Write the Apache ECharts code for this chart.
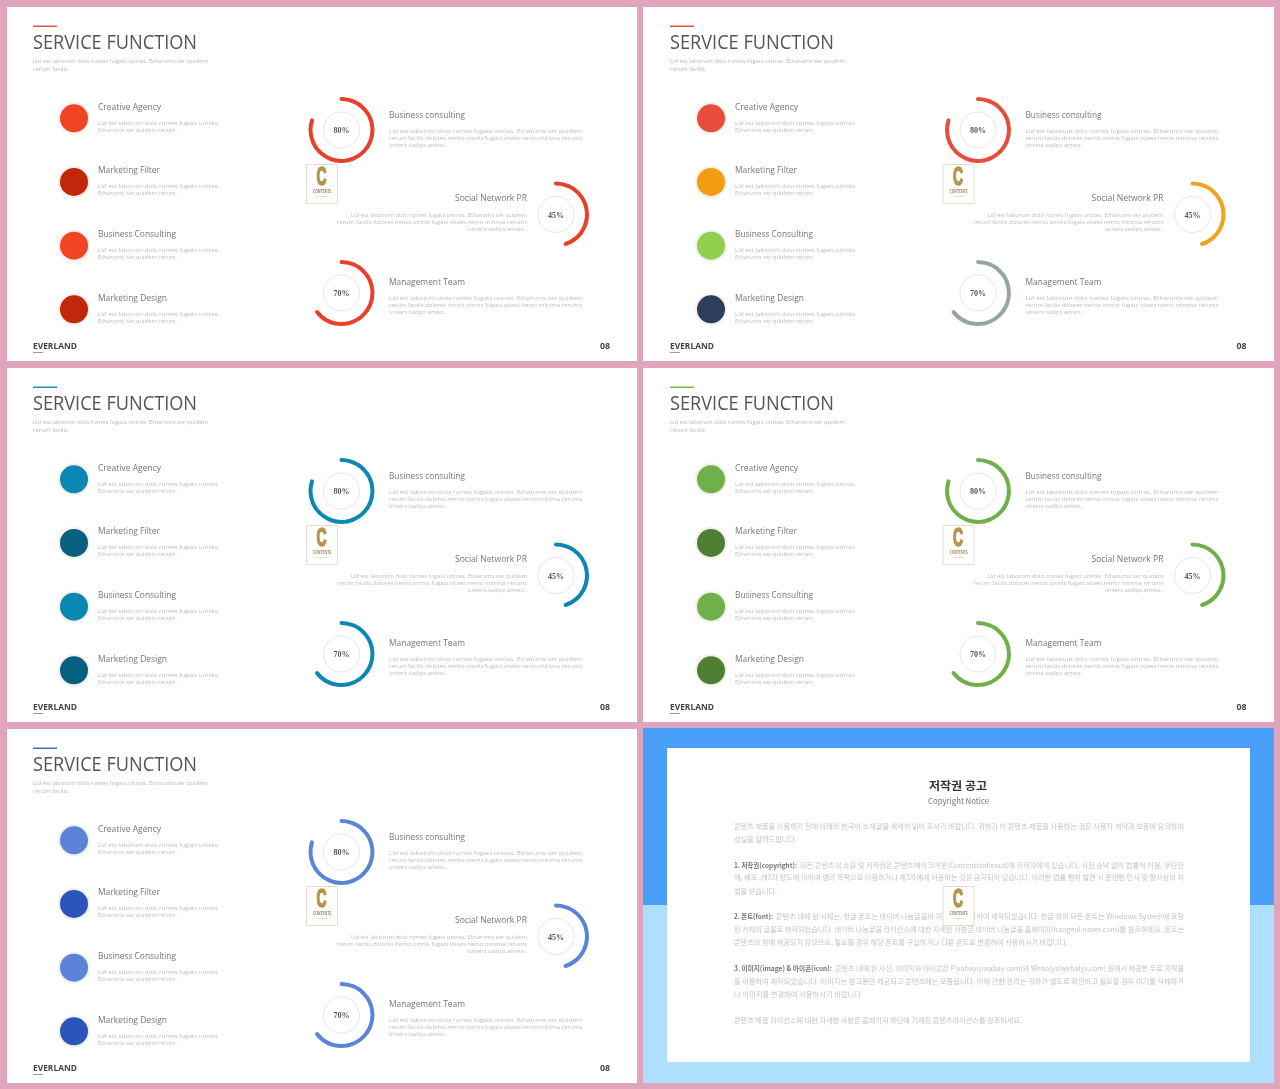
<![CDATA[<!DOCTYPE html>
<html><head><meta charset="utf-8">
<style>html,body{margin:0;padding:0;background:#e0a5bc}#c{width:1280px;height:1089px}</style>
<script src="https://cdn.jsdelivr.net/npm/echarts@6/dist/echarts.min.js"></script>
</head><body><div id="c"></div>
<script>
// ---- data ----
const title = 'SERVICE FUNCTION';
const subtitleLines = ['Lid est laborum dolo rumes fugats untras. Etharums ser quidem', 'rerum facilis'];
const listCategories = ['Creative Agency', 'Marketing Filter', 'Business Consulting', 'Marketing Design'];
const listText = ['Lid est laborum dolo rumes fugats untras.', 'Etharums ser quidem rerum.'];
const gaugeNames = ['Business consulting', 'Social Network PR', 'Management Team'];
const gaugeLabels = ['80%', '45%', '70%'];
const gaugeArcs = [80, 45, 64.5];   // sweep as drawn in the picture
const gaugeText = ['Lid est laborum dolo rumes fugats untras. Etharums ser quidem', 'rerum facilis dolores nemis omnis fugats vitaes nemo minima rerums', 'unsers sadips amets..'];
const brand = 'EVERLAND';
const pageNo = '08';
const accentColors = ['#e2523f', '#e2523f', '#1a93a8', '#7cb65a', '#3f6fc4'];
const dotColors = [
  ['#f04423', '#c0270d', '#f04423', '#c0270d'],
  ['#e74c3c', '#f39c12', '#8fd14f', '#2c3e5c'],
  ['#0b87b3', '#05617f', '#0b87b3', '#05617f'],
  ['#6fb04a', '#4f7f33', '#6fb04a', '#4f7f33'],
  ['#5b84d8', '#2a55bb', '#5b84d8', '#2a55bb']
];
const ringColors = [
  ['#e8402a', '#e8402a', '#e8402a'],
  ['#e74c3c', '#f1a21e', '#95a5a6'],
  ['#0b87b3', '#0b87b3', '#0b87b3'],
  ['#6fb04a', '#6fb04a', '#6fb04a'],
  ['#5b84d8', '#5b84d8', '#5b84d8']
];
const noticeTitle = '저작권 공고';
const noticeSubtitle = 'Copyright Notice';
const noticeIntro = ['콘텐츠 제품을 사용하기 전에 아래의 한국어 소개글을 세세히 읽어 주시기 바랍니다. 귀하가 이 콘텐츠 제품을 사용하는 것은 사용자 계약과 보증에 유의하여', '성실을 알려드립니다.'];
const noticeCopyright = ['1. 저작권(copyright):', '모든 콘텐츠의 소유 및 저작권은 콘텐츠메이크아웃(Contentstokeout)에 저작자에게 있습니다. 사전 승낙 없이 법률적 이용, 무단전', '재, 배포 ,제3자 양도에 의하여 영리 목적으로 이용하거나 제3자에게 이용하는 것은 금지되어 있습니다. 이러한 법률 행위 발견 시 준엄한 민사 및 형사상의 처', '벌을 받습니다.'];
const noticeFont = ['2. 폰트(font):', '콘텐츠 내에 된 서체는, 한글 폰트는 네이버 나눔글꼴의 저작권을 활용하여 제작되었습니다. 한글 외의 모든 폰트는 Windows System에 포함', '된 서체의 글꼴로 제작되었습니다. 네이버 나눔글꼴 라이선스에 대한 자세한 사항은 네이버 나눔글꼴 홈페이지(hangeul.naver.com)를 참조하세요. 폰트는', '콘텐츠의 참에 제공되지 않으므로, 필요할 경우 해당 폰트를 구입하거나 다른 폰트로 변경하여 사용하시기 바랍니다.'];
const noticeImage = ['3. 이미지(image) & 아이콘(icon):', '콘텐츠 내에 된 사진, 이미지와 아이콘은 Pixabay(pixabay.com)와 Webalys(webalys.com) 등에서 제공한 무료 저작물', '을 이용하여 제작되었습니다. 이미지는 참고용만 제공되고 콘텐츠에는 포함됩니다. 이에 관한 권리는 귀하가 별도로 확인하고 필요할 경우 여기를 삭제하거', '나 이미지를 변경하여 사용하시기 바랍니다.'];
const noticeEnd = '콘텐츠 제품 라이선스에 대한 자세한 사항은 홈페이지 하단에 기재된 콘텐츠라이선스를 참조하세요.';

// ---- layout ----
const DXL = 637, DXR = 636.5, DY = 361;
const SANS = '"Open Sans"', KR = '"Noto Sans CJK KR"';
const mctx = document.createElement('canvas').getContext('2d');
const g = [];
function txt(s, x, y, w, size, color, o) {
  o = o || {};
  const fam = o.family || SANS, weight = o.weight || 'normal';
  mctx.font = weight + ' ' + size + 'px ' + fam;
  const sc = w ? w / mctx.measureText(s).width : 1;
  g.push({ type: 'text', x: x, y: y + (o.dy || 0), scaleX: sc, z: o.z || 1, silent: true,
    style: { text: s, x: 0, y: 0, fill: color, stroke: o.stroke || null, lineWidth: o.lw || 0, font: weight + ' ' + size + 'px ' + fam, textAlign: 'left', textVerticalAlign: 'middle' } });
}
function rect(x, y, w, h, fill, o) {
  o = o || {};
  g.push({ type: 'rect', z: o.z || 0, silent: true, shape: { x: x, y: y, width: w, height: h },
    style: { fill: fill, stroke: o.stroke || null, lineWidth: o.lw || 0 } });
}
function logo(x, y) {
  rect(x + .5, y + .5, 31, 39, '#fff', { stroke: '#e0ddd5', lw: 1, z: 5 });
  txt('C', x + 10.5, y + 14, 10, 25, '#b4954a', { weight: 'bold', z: 6, family: '"Liberation Sans"', stroke: '#b4954a', lw: 1.6 });
  txt('CONTENTS', x + 7, y + 28, 18, 4.5, '#9a8a5e', { weight: 'bold', z: 6 });
  txt('WALL LOGO', x + 10, y + 32.5, 11, 2.5, '#b9a675', { z: 6 });
}

const series = [], grids = [], xAxes = [], yAxes = [];
const gaugeCenters = [[341.5, 130], [556, 214.5], [341.5, 293]];
const listY = [107.6, 170.5, 234.2, 298.2];
for (let p = 0; p < 5; p++) {
  const col = p % 2, row = (p - col) / 2;
  const ox = col * DXL, oxr = col * DXR, oy = row * DY;
  rect(col ? 643 : 7, 7 + oy, col ? 631 : 630, 354, '#fff');
  rect(33 + ox, 25.5 + oy, 24, 1.5, accentColors[p]);
  txt(title, 33 + ox, 43.4 + oy, 164, 19.5, '#555');
  txt(subtitleLines[0], 33 + ox, 61.5 + oy, 175, 5.5, '#b9b9b9');
  txt(subtitleLines[1], 33 + ox, 69 + oy, 35, 5.5, '#b9b9b9');
  const headW = [63, 62, 78, 69];
  listCategories.forEach((c, i) => {
    txt(c, 98 + ox, listY[i] + oy, headW[i], 8.5, '#777');
    txt(listText[0], 98 + ox, Math.floor(listY[i]) + 16 + oy, 121, 5.5, '#bdbdbd');
    txt(listText[1], 98 + ox, Math.floor(listY[i]) + 23 + oy, 79, 5.5, '#bdbdbd');
  });
  // list dots: one hidden category grid per panel
  grids.push({ left: 59 + ox, width: 30, top: 86.5 + oy, height: 254.6 });
  xAxes.push({ type: 'category', gridIndex: p, data: [''], show: false });
  yAxes.push({ type: 'category', gridIndex: p, data: listCategories, inverse: true, show: false });
  series.push({ type: 'scatter', xAxisIndex: p, yAxisIndex: p, symbolSize: 30, silent: true, animation: false,
    data: listCategories.map((c, i) => ({ value: [0, i], itemStyle: { color: dotColors[p][i], opacity: 1, borderColor: '#f4efe9', borderWidth: 2 } })) });
  // gauges
  const nameX = [389, 455, 389], nameW = [76, 72, 76];
  gaugeNames.forEach((n, i) => {
    const c = gaugeCenters[i], y = [115.5, 199, 282.5][i];
    txt(n, nameX[i] + oxr, y + oy, nameW[i], 8.5, '#777');
    const lx = i === 1 ? [351, 337, 468] : [389, 389, 389];
    const lw = i === 1 ? [176, 190, 59] : [193, 193, 58];
    gaugeText.forEach((l, j) => txt(l, lx[j] + oxr, Math.floor(y) + 16 + 7 * j + oy, lw[j], 5.5, '#bdbdbd'));
    g.push({ type: 'circle', z: 1, silent: true, shape: { cx: c[0] + oxr, cy: c[1] + oy, r: 18 }, style: { fill: '#fff', stroke: '#e6e6e6', lineWidth: 1 } });
    series.push({ type: 'gauge', center: [c[0] + oxr, c[1] + oy], radius: 33, startAngle: 90, endAngle: -270, min: 0, max: 100,
      silent: true, animation: false, pointer: { show: false },
      progress: { show: true, roundCap: true, width: 4, itemStyle: { color: ringColors[p][i] } },
      axisLine: { show: true, lineStyle: { width: 4, color: [[1, 'rgba(0,0,0,0)']] } },
      axisTick: { show: false }, splitLine: { show: false }, axisLabel: { show: false }, title: { show: false },
      detail: { show: true, offsetCenter: [0, 1], valueAnimation: false, formatter: () => gaugeLabels[i], color: '#555', fontFamily: 'Liberation Serif', fontWeight: 'bold', fontSize: 8 },
      data: [{ value: gaugeArcs[i] }] });
  });
  txt(brand, 33 + ox, 346.2 + oy, 44, 8.5, '#444', { weight: 'bold' });
  rect(33 + ox, 352 + oy, 10, 1, '#999');
  txt(pageNo, 600 + oxr, 346.2 + oy, 10, 8.5, '#444', { weight: 'bold' });
  logo(306 + oxr, 164 + oy);
}

// copyright panel
rect(643, 728, 631, 177, '#4a9ff8');
rect(643, 905, 631, 178, '#aedffc');
rect(667, 748, 583, 314, '#fff');
const B = { family: KR, weight: 'bold' }, N = { family: KR };
const nc = '#c4c4c4', bc = '#777';
txt(noticeTitle, 929, 786, 58, 11, '#333', B);
txt(noticeSubtitle, 928, 801, 61, 8, '#777', { family: KR });
txt(noticeIntro[0], 734, 826, 450, 7, nc, N);
txt(noticeIntro[1], 734, 839, 63, 7, nc, N);
function para(a, ys, prefEnd, w3) {
  txt(a[0], 734, ys[0], prefEnd - 734, 7, bc, B);
  txt(a[1], prefEnd + 3, ys[0], 1184 - prefEnd - 3, 7, nc, N);
  txt(a[2], 734, ys[1], 450, 7, nc, N);
  txt(a[3], 734, ys[2], w3, 7, nc, N);
}
para(noticeCopyright, [865, 877.5, 891], 797, 43);
para(noticeFont, [916, 929, 942.5], 773, 334);
para(noticeImage, [968, 981, 994], 832, 129);
txt(noticeEnd, 734, 1020, 288, 7, nc, N);
logo(942.5, 886);

const chart = echarts.init(document.getElementById('c'), null, { renderer: 'canvas' });
chart.setOption({ animation: false, backgroundColor: '#e0a5bc', graphic: { elements: g }, grid: grids, xAxis: xAxes, yAxis: yAxes, series: series });
</script></body></html>]]>
